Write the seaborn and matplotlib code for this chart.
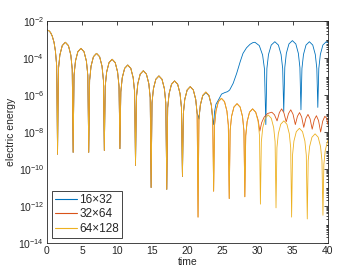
import matplotlib
matplotlib.use("Agg")
import matplotlib.pyplot as plt
from matplotlib.ticker import FixedLocator, LogLocator, LogFormatterMathtext, NullFormatter
import numpy as np
import pandas as pd
import seaborn as sns

# log10(electric energy) against time
# 64x128 run (drawn on top, yellow)
t_64 = [0.0, 0.25, 0.5, 0.75, 1.0, 1.2, 1.38, 1.5,
        1.63, 1.83, 2.17, 2.61, 3.05, 3.39, 3.59, 3.72,
        3.85, 4.05, 4.39, 4.83, 5.27, 5.61, 5.81, 5.94,
        6.07, 6.27, 6.61, 7.05, 7.49, 7.83, 8.03, 8.16,
        8.29, 8.49, 8.83, 9.27, 9.71, 10.05, 10.25, 10.38,
        10.51, 10.71, 11.05, 11.49, 11.93, 12.27, 12.47, 12.6,
        12.73, 12.93, 13.27, 13.71, 14.15, 14.49, 14.69, 14.82,
        14.95, 15.15, 15.49, 15.93, 16.37, 16.71, 16.91, 17.05,
        17.18, 17.38, 17.72, 18.16, 18.6, 18.94, 19.14, 19.28,
        19.41, 19.61, 19.95, 20.39, 20.83, 21.17, 21.37, 21.5,
        21.63, 21.83, 22.17, 22.61, 23.05, 23.39, 23.59, 23.72,
        23.85, 24.05, 24.39, 24.83, 25.27, 25.61, 25.81, 25.94,
        26.07, 26.27, 26.61, 27.05, 27.49, 27.83, 28.03, 28.16,
        28.29, 28.49, 28.83, 29.27, 29.71, 30.05, 30.25, 30.38,
        30.51, 30.71, 31.05, 31.49, 31.93, 32.27, 32.47, 32.6,
        32.73, 32.93, 33.27, 33.71, 34.15, 34.49, 34.69, 34.82,
        34.95, 35.15, 35.49, 35.93, 36.37, 36.71, 36.91, 37.05,
        37.18, 37.38, 37.72, 38.16, 38.6, 38.94, 39.14, 39.28,
        39.41, 39.61, 39.95, 40.0]
loge_64 = [-2.49, -2.52, -2.62, -2.82, -3.15, -3.63, -4.42, -9.2,
           -4.6, -3.84, -3.33, -3.15, -3.33, -3.84, -4.6, -9.1,
           -4.93, -4.17, -3.66, -3.48, -3.66, -4.17, -4.93, -9.1,
           -5.2, -4.44, -3.93, -3.75, -3.93, -4.44, -5.2, -9.0,
           -5.52, -4.76, -4.25, -4.07, -4.25, -4.76, -5.52, -8.9,
           -5.83, -5.07, -4.56, -4.38, -4.56, -5.07, -5.83, -9.8,
           -6.14, -5.38, -4.87, -4.69, -4.87, -5.38, -6.14, -11.0,
           -6.42, -5.66, -5.15, -4.97, -5.15, -5.66, -6.42, -11.1,
           -6.69, -5.93, -5.42, -5.24, -5.42, -5.93, -6.69, -10.4,
           -7.0, -6.24, -5.73, -5.55, -5.73, -6.24, -7.0, -12.6,
           -7.29, -6.53, -6.02, -5.84, -6.02, -6.53, -7.29, -11.2,
           -7.63, -6.87, -6.36, -6.18, -6.36, -6.87, -7.63, -11.6,
           -7.92, -7.16, -6.65, -6.47, -6.65, -7.16, -7.92, -11.5,
           -8.2, -7.44, -6.93, -6.75, -6.93, -7.44, -8.2, -11.9,
           -8.53, -7.77, -7.26, -7.08, -7.26, -7.77, -8.53, -12.1,
           -8.85, -8.09, -7.58, -7.4, -7.58, -8.09, -8.85, -12.6,
           -9.25, -8.49, -7.98, -7.8, -7.98, -8.49, -9.25, -12.7,
           -9.55, -8.79, -8.28, -8.1, -8.28, -8.79, -9.55, -12.5,
           -9.75, -8.99, -8.48, -8.45]

# 16x32 run: same as 64x128 up to t=21.4, then its own curve
n_blue_shared = 79
t_16_tail = [21.5,
             21.63, 21.83, 22.17, 22.61, 23.05, 23.39, 23.59, 23.72,
             23.85, 24.05, 24.4, 24.85, 25.3, 25.7, 26.0, 26.5, 27.0,
             27.5, 27.9, 28.4, 28.9, 29.3, 29.6, 30.22, 30.69, 30.96, 31.15,
             31.3, 31.53, 31.92, 32.43, 32.94, 33.32, 33.55, 33.7,
             33.85, 34.07, 34.44, 34.93, 35.42, 35.78, 36.0, 36.15,
             36.29, 36.51, 36.87, 37.35, 37.83, 38.19, 38.41, 38.55,
             38.69, 38.91, 39.27, 39.75, 40.0]
loge_16_tail = [-7.1,
                -7.3, -6.55, -6.04, -5.87, -6.04, -6.55, -7.3, -7.6,
                -6.9, -6.5, -6.27, -5.95, -5.87, -5.82, -5.73, -5.37, -4.83,
                -4.2, -3.75, -3.45, -3.26, -3.17, -3.15, -3.33, -3.84, -4.6, -7.6,
                -4.57, -3.81, -3.3, -3.12, -3.3, -3.81, -4.57, -6.9,
                -4.51, -3.75, -3.24, -3.06, -3.24, -3.75, -4.51, -6.8,
                -4.57, -3.81, -3.3, -3.12, -3.3, -3.81, -4.57, -6.67,
                -4.57, -3.81, -3.3, -3.12, -3.17]

# 32x64 run: same as 64x128 up to t=29.3, then its own curve
n_red_shared = 108
t_32_tail = [29.71, 30.05, 30.3, 30.55, 30.9, 31.4, 32.0,
             32.38, 32.75, 33.08, 33.4, 33.72, 34.05, 34.38, 34.7,
             35.02, 35.35, 35.65, 35.95, 36.25, 36.55, 36.85, 37.15,
             37.45, 37.75, 38.05, 38.35, 38.65, 38.95, 39.25, 39.55,
             39.78, 40.0]
loge_32_tail = [-6.93, -7.35, -7.95, -7.5, -7.2, -7.0, -6.93,
                -7.07, -7.4, -6.95, -6.75, -6.96, -7.45, -7.0, -6.8,
                -7.04, -7.6, -7.15, -6.95, -7.19, -7.75, -7.26, -7.05,
                -7.29, -7.85, -7.34, -7.12, -7.38, -8.0, -7.41, -7.15,
                -7.25, -7.6]

labels = ["16\u00d732", "32\u00d764", "64\u00d7128"]
colors = ["#0072BD", "#D95319", "#EDB120"]

t_16 = t_64[:n_blue_shared] + t_16_tail
loge_16 = loge_64[:n_blue_shared] + loge_16_tail
t_32 = t_64[:n_red_shared] + t_32_tail
loge_32 = loge_64[:n_red_shared] + loge_32_tail

frames = []
for lab, t, le in zip(labels, [t_16, t_32, t_64], [loge_16, loge_32, loge_64]):
    frames.append(pd.DataFrame({"time": t, "energy": 10.0 ** np.array(le), "grid": lab}))
df = pd.concat(frames, ignore_index=True)

sns.set_style("white")
plt.rcParams["font.family"] = ["Liberation Sans", "DejaVu Sans"]
plt.rcParams["mathtext.fontset"] = "custom"
plt.rcParams["mathtext.rm"] = "Liberation Sans"
plt.rcParams["mathtext.it"] = "Liberation Sans"

fig = plt.figure(figsize=(3.63, 2.73), dpi=100)
ax = fig.add_axes([47 / 363, 30 / 273, 281 / 363, 222 / 273])

for lab, col in zip(labels, colors):
    sub = df[df["grid"] == lab]
    sns.lineplot(data=sub, x="time", y="energy", color=col, linewidth=0.6,
                 label=lab, estimator=None, sort=False, ax=ax)

ax.set_yscale("log")
ax.set_xlim(0, 40)
ax.set_ylim(1e-14, 1e-2)
ax.set_xticks(np.arange(0, 41, 5))
ax.yaxis.set_major_locator(FixedLocator([10.0 ** k for k in range(-14, -1, 2)]))
ax.yaxis.set_major_formatter(LogFormatterMathtext())
ax.yaxis.set_minor_locator(LogLocator(base=10, subs=np.arange(1, 10), numticks=200))
ax.yaxis.set_minor_formatter(NullFormatter())

axis_gray = "#262626"
for sp in ax.spines.values():
    sp.set_visible(True)
    sp.set_color(axis_gray)
    sp.set_linewidth(0.6)
ax.tick_params(which="both", direction="in", top=True, right=True,
               color=axis_gray, width=0.6, labelsize=7.5, labelcolor=axis_gray, pad=2)
ax.tick_params(which="major", length=3)
ax.tick_params(which="minor", length=1.5)
ax.tick_params(axis="x", which="minor", bottom=False, top=False)

ax.set_xlabel("time", fontsize=7.5, color=axis_gray, labelpad=1)
ax.set_ylabel("electric energy", fontsize=7.5, color=axis_gray, labelpad=2)

leg = ax.legend(loc="lower left", fontsize=8.5, frameon=True, fancybox=False,
                edgecolor=axis_gray, framealpha=1, handlelength=1.8,
                borderaxespad=0.45, labelspacing=0.2, handletextpad=0.25,
                borderpad=0.25)
leg.get_frame().set_linewidth(0.6)
for line in leg.get_lines():
    line.set_linewidth(0.8)

fig.savefig("out.png", dpi=100, facecolor="white")
